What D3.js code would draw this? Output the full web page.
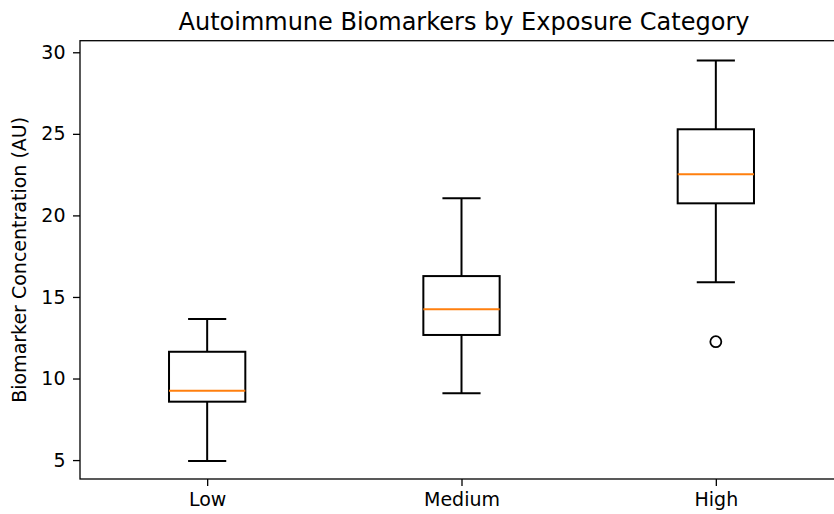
<!DOCTYPE html>
<html>
<head>
<meta charset="utf-8">
<script src="https://cdn.jsdelivr.net/npm/d3@7"></script>
<style>
  html, body { margin: 0; padding: 0; background: #fff; }
  svg { display: block; font-family: "DejaVu Sans", sans-serif; }
</style>
</head>
<body>
<svg id="chart" width="834" height="514"></svg>
<script>
const categories = ["Low", "Medium", "High"];
const whiskerLow  = [4.95, 9.09, 15.9];
const q1          = [8.58, 12.67, 20.74];
const medians     = [9.25, 14.24, 22.52];
const q3          = [11.64, 16.28, 25.28];
const whiskerHigh = [13.65, 21.05, 29.49];
const outliers    = [[], [], [12.26]];
const yTicks = [5, 10, 15, 20, 25, 30];

const svg = d3.select("#chart");
const mLeft = 80, mRight = 843, mTop = 40.7, mBottom = 479;

const x = d3.scaleLinear().domain([0.5, 3.5]).range([mLeft, mRight]);
const y = d3.scaleLinear().domain([3.84, 30.71]).range([mBottom, mTop]);

const data = categories.map((c, i) => ({
  cat: c, pos: i + 1,
  lo: whiskerLow[i], q1: q1[i], med: medians[i], q3: q3[i], hi: whiskerHigh[i],
  out: outliers[i]
}));

const boxW = 0.3, capW = 0.15, lw = 2;
const g = svg.append("g");

data.forEach(d => {
  const gg = g.append("g");
  gg.append("line").attr("x1", x(d.pos)).attr("x2", x(d.pos))
    .attr("y1", y(d.q3)).attr("y2", y(d.hi)).attr("stroke", "#000").attr("stroke-width", lw);
  gg.append("line").attr("x1", x(d.pos)).attr("x2", x(d.pos))
    .attr("y1", y(d.q1)).attr("y2", y(d.lo)).attr("stroke", "#000").attr("stroke-width", lw);
  [d.lo, d.hi].forEach(v => {
    gg.append("line").attr("x1", x(d.pos - capW / 2)).attr("x2", x(d.pos + capW / 2))
      .attr("y1", y(v)).attr("y2", y(v)).attr("stroke", "#000").attr("stroke-width", lw);
  });
  gg.append("rect").attr("x", x(d.pos - boxW / 2)).attr("y", y(d.q3))
    .attr("width", x(d.pos + boxW / 2) - x(d.pos - boxW / 2))
    .attr("height", y(d.q1) - y(d.q3))
    .attr("fill", "none").attr("stroke", "#000").attr("stroke-width", lw);
  gg.append("line").attr("x1", x(d.pos - boxW / 2)).attr("x2", x(d.pos + boxW / 2))
    .attr("y1", y(d.med)).attr("y2", y(d.med)).attr("stroke", "#ff7f0e").attr("stroke-width", lw);
  d.out.forEach(v => {
    gg.append("circle").attr("cx", x(d.pos)).attr("cy", y(v)).attr("r", 5.5)
      .attr("fill", "none").attr("stroke", "#000").attr("stroke-width", 1.8);
  });
});

const yAxis = d3.axisLeft(y).tickValues(yTicks).tickSize(7).tickPadding(7.5).tickFormat(d3.format("d"));
const xAxis = d3.axisBottom(x).tickValues([1, 2, 3]).tickSize(7).tickPadding(7)
  .tickFormat((d) => categories[d - 1]);

const ya = svg.append("g").attr("transform", `translate(${mLeft},0)`).call(yAxis);
const xa = svg.append("g").attr("transform", `translate(0,${mBottom})`).call(xAxis);
[ya, xa].forEach(a => {
  a.select(".domain").remove();
  a.selectAll("line").attr("stroke", "#000").attr("stroke-width", 1.3);
  a.selectAll("text").attr("fill", "#000").style("font-size", "19px").style("font-family", "DejaVu Sans");
});

svg.append("rect").attr("x", mLeft).attr("y", mTop).attr("width", mRight - mLeft).attr("height", mBottom - mTop)
  .attr("fill", "none").attr("stroke", "#000").attr("stroke-width", 1.3);

svg.append("text").attr("x", 464).attr("y", 30)
  .attr("text-anchor", "middle").style("font-size", "24px").attr("fill", "#000")
  .text("Autoimmune Biomarkers by Exposure Category");

svg.append("text").attr("transform", `translate(26,${(mTop + mBottom) / 2}) rotate(-90)`)
  .attr("text-anchor", "middle").style("font-size", "19px").attr("fill", "#000")
  .text("Biomarker Concentration (AU)");
</script>
</body>
</html>
